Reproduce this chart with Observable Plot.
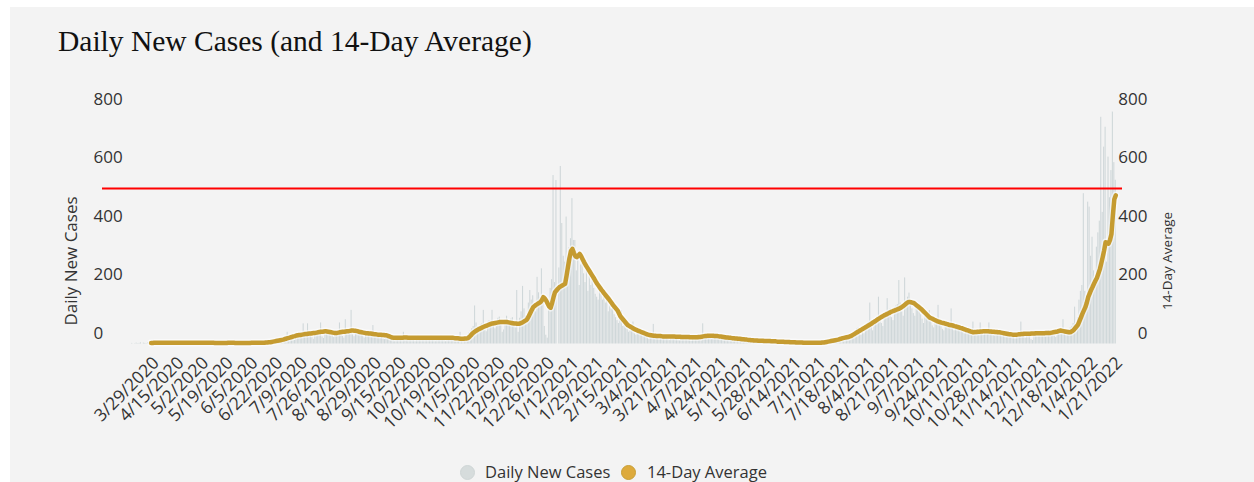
<!DOCTYPE html>
<html><head><meta charset="utf-8">
<script src="https://cdn.jsdelivr.net/npm/d3@7"></script>
<script src="https://cdn.jsdelivr.net/npm/@observablehq/plot@0.6"></script>
<style>
html,body{margin:0;padding:0;background:#fff;width:1254px;height:482px;overflow:hidden;}
#panel{position:absolute;left:10px;top:7px;width:1244px;height:475px;background:#f3f3f3;}
#title{position:absolute;left:58px;top:27px;font-family:"Liberation Serif","Times New Roman",serif;font-size:29.5px;line-height:29px;color:#111;white-space:nowrap;}
.ytitle{position:absolute;font-family:"Open Sans",sans-serif;color:#333;white-space:nowrap;line-height:1;transform:translate(-50%,-50%) rotate(-90deg);}
#chart{position:absolute;left:0;top:70px;}
.leg-dot{position:absolute;width:15px;height:15px;border-radius:50%;box-sizing:border-box;}
.leg-txt{position:absolute;font-family:"Open Sans",sans-serif;font-size:16.5px;color:#333;white-space:nowrap;line-height:1;transform:translateY(-50%);}
</style>
</head><body>
<div id="panel"></div>
<div id="title"></div>
<div id="ylabL" class="ytitle" style="left:70px;top:261px;font-size:17px;"></div>
<div id="ylabR" class="ytitle" style="left:1168px;top:261px;font-size:13.5px;"></div>
<div id="chart"></div>
<div id="legend"></div>
<script>
const chartTitle = "Daily New Cases (and 14-Day Average)";
const seriesNames = ["Daily New Cases", "14-Day Average"];
const firstDate = "2020-03-16";

// daily new cases, one value per day starting 3/16/2020
const daily2020 = [
  2,0,1,3,1,2,4,0,3,2,1,5,3,2,4,6,
  5,3,6,2,1,7,4,5,3,6,4,2,1,5,6,4,3,5,2,3,7,4,3,5,2,1,6,4,3,5,
  4,3,2,5,3,6,1,2,4,5,3,2,4,6,3,1,2,5,4,3,2,6,3,1,2,4,5,3,2,4,3,
  3,4,2,5,3,2,4,3,5,2,3,4,6,2,3,9,7,12,10,6,5,15,13,17,11,20,9,8,24,26,
  40,22,18,30,14,12,35,33,28,38,20,69,26,31,69,36,30,22,16,42,38,45,30,72,24,19,44,48,40,36,28,
  30,22,45,41,38,72,34,26,20,83,48,44,40,115,32,25,47,50,44,36,42,28,20,38,35,40,30,34,63,22,30,
  32,28,35,30,18,15,24,30,26,22,20,14,10,22,25,24,20,18,40,12,20,23,26,21,18,15,10,24,26,22,
  20,24,16,12,22,25,21,26,23,14,10,22,24,20,26,19,12,9,24,22,25,18,20,13,10,22,17,40,18,14,12,
  15,30,38,44,52,60,130,72,58,55,66,70,115,48,42,75,80,72,115,68,52,60,88,92,70,40,48,82,95,78,
  70,85,90,60,55,183,40,88,110,197,120,95,70,140,183,150,165,130,110,228,175,160,257,150,60,30,20,140,190,220,576
];
const daily2021 = [
  210,559,0,260,607,412,300,280,434,240,330,360,497,354,354,250,309,200,270,285,240,210,263,180,230,200,228,190,170,160,150,
  183,170,150,160,140,172,110,130,120,137,100,90,80,70,95,114,60,70,55,50,40,45,60,75,35,30,42,38,
  35,30,28,34,26,20,15,30,28,67,22,25,18,14,28,30,24,26,22,17,12,27,30,25,28,20,14,11,26,29,24,
  22,26,18,12,10,24,28,25,20,22,15,11,69,27,30,28,26,20,16,32,30,34,28,22,14,26,28,24,20,18,
  20,14,22,24,20,18,16,12,9,18,16,14,15,12,8,6,13,12,10,14,11,7,5,12,11,13,10,9,6,4,8,
  10,9,8,11,6,4,9,8,7,10,6,5,3,7,6,5,8,4,3,2,5,4,6,3,5,2,1,4,5,3,
  4,5,2,3,6,5,8,9,6,4,12,14,16,18,10,8,20,24,26,22,30,28,18,14,34,40,45,52,55,38,30,
  40,35,62,70,75,140,60,45,80,85,92,160,95,70,60,100,110,155,115,120,90,80,125,130,135,217,140,110,95,226,150,
  160,174,140,120,104,95,130,125,110,100,85,70,95,90,88,114,80,62,55,78,82,132,70,65,50,45,68,72,70,60,
  120,60,45,58,62,55,50,48,40,35,52,50,46,42,38,75,30,44,48,45,72,40,30,38,46,48,72,42,36,30,28,
  42,45,40,38,35,28,24,40,38,36,30,28,22,18,35,34,36,75,30,25,20,38,40,36,15,12,30,34,38,36,
  38,40,42,30,24,44,46,40,38,36,28,22,48,50,52,45,83,35,30,42,48,55,60,70,126,40,90,150,180,200,514
];
const daily2022 = [180,120,485,468,300,365,250,200,331,380,420,775,450,673,741,280,639,500,593,793,620,560];

// 14-day average, aligned with the daily values (starts 3/29/2020)
const avg2020 = [
  null,null,null,null,null,null,null,null,null,null,null,null,null,3,3,4,
  4,4,4,4,4,4,4,4,4,4,4,4,4,4,4,4,4,4,4,4,4,4,4,4,4,4,4,4,4,4,
  4,4,4,4,4,4,4,4,4,4,4,3,3,3,3,3,3,3,3,3,4,4,4,4,4,3,3,3,3,3,3,
  3,3,3,3,3,4,4,4,4,4,4,4,4,4,4,5,5,6,6,7,8,9,10,11,12,13,14,15,17,18,
  20,21,23,24,26,27,29,30,31,31,32,33,34,34,35,36,36,37,38,38,39,40,41,42,42,43,44,43,42,41,40,
  39,38,38,38,39,40,41,42,42,43,44,44,45,46,46,45,45,44,42,41,40,39,38,37,37,36,36,35,34,33,33,
  32,32,32,31,31,30,30,28,26,24,22,21,21,21,21,21,21,21,22,22,22,21,21,21,21,21,21,21,21,21,
  21,21,21,21,21,21,21,21,21,21,21,21,21,21,21,21,21,21,21,21,21,21,21,20,20,20,19,18,18,18,19,
  19,20,24,29,35,39,43,46,49,52,54,57,59,61,63,65,67,69,70,71,72,73,74,75,75,75,75,75,75,74,
  73,72,71,70,70,69,69,70,72,75,78,81,86,96,106,116,126,130,134,137,140,143,150,160,155,148,138,128,124,140,160
];
const avg2021 = [
  177,183,189,194,197,200,203,206,235,265,295,318,325,312,300,297,302,308,300,290,280,271,263,255,247,239,231,223,214,206,199,
  192,185,179,172,166,160,154,147,140,133,127,121,115,105,95,89,83,77,71,65,62,59,56,53,50,48,46,44,
  42,40,38,36,34,32,31,30,29,28,28,27,27,27,27,26,26,26,26,26,26,26,26,26,25,25,25,25,24,24,24,
  24,24,24,23,23,23,23,23,23,24,24,25,26,27,27,28,28,28,28,28,27,27,27,26,26,25,24,23,22,22,
  21,21,20,20,19,19,18,18,17,16,16,15,15,14,14,13,13,12,12,12,11,11,11,11,10,10,10,10,10,9,9,
  9,9,8,8,8,8,8,7,7,7,7,6,6,6,6,5,5,5,5,5,4,4,4,4,4,4,4,4,4,4,
  4,4,4,5,5,6,7,8,9,10,11,12,13,14,15,17,18,20,21,22,23,24,26,28,31,34,37,40,43,46,49,
  52,55,58,61,64,67,70,74,77,80,84,87,90,93,96,99,101,104,106,109,111,113,115,117,119,121,124,127,131,135,139,
  143,144,143,141,140,136,132,128,124,120,115,110,105,100,95,90,88,86,83,81,78,76,75,73,72,71,69,68,66,65,
  64,63,61,60,58,57,55,54,52,50,48,47,45,43,42,40,41,41,42,42,43,43,44,44,44,44,43,43,42,42,41,
  41,40,40,39,38,37,36,35,34,33,33,32,32,32,32,33,33,34,34,35,35,35,35,35,36,36,36,37,37,37,
  37,37,37,37,38,38,38,38,39,40,41,42,43,45,46,45,44,43,42,41,40,41,44,48,54,60,66,78,90,103,114
];
const avg2022 = [125,140,160,172,185,195,206,216,226,240,255,275,297,320,348,345,343,355,375,440,495,508];

const yTicks = [0, 200, 400, 600, 800];
const xTickLabels = ["3/29/2020","4/15/2020","5/2/2020","5/19/2020","6/5/2020","6/22/2020","7/9/2020","7/26/2020","8/12/2020","8/29/2020","9/15/2020","10/2/2020","10/19/2020","11/5/2020","11/22/2020","12/9/2020","12/26/2020","1/12/2021","1/29/2021","2/15/2021","3/4/2021","3/21/2021","4/7/2021","4/24/2021","5/11/2021","5/28/2021","6/14/2021","7/1/2021","7/18/2021","8/4/2021","8/21/2021","9/7/2021","9/24/2021","10/11/2021","10/28/2021","11/14/2021","12/1/2021","12/18/2021","1/4/2022","1/21/2022"];
const referenceLevel = 532;

const barColor = "#cfd7d9";
const lineColor = "#c59b30";

const DAY = 864e5;
const t0 = Date.parse(firstDate + "T00:00:00Z");
const daily = [...daily2020, ...daily2021, ...daily2022];
const avg = [...avg2020, ...avg2021, ...avg2022];
const rows = daily.map((v, i) => ({
  start: new Date(t0 + i * DAY),
  end: new Date(t0 + (i + 1) * DAY),
  mid: new Date(t0 + i * DAY + DAY / 2),
  cases: v,
  avg: avg[i]
}));
const avgRows = rows.filter(d => d.avg != null);
const tickDates = xTickLabels.map(s => {
  const [m, d, y] = s.split("/").map(Number);
  return new Date(Date.UTC(y, m - 1, d, 12));
});
const fmt = d => `${d.getUTCMonth() + 1}/${d.getUTCDate()}/${d.getUTCFullYear()}`;

const chart = Plot.plot({
  width: 1254,
  height: 390,
  marginLeft: 131,
  marginRight: 138,
  marginTop: 39.5,
  marginBottom: 116.5,
  style: {background: "transparent", fontFamily: "Open Sans", fontSize: "17px", color: "#333", overflow: "visible"},
  x: {type: "utc", domain: [new Date(t0), new Date(t0 + daily.length * DAY)]},
  y: {domain: [0, 800]},
  marks: [
    Plot.rectY(rows, {x1: "start", x2: "end", y: "cases", fill: barColor, insetLeft: 0.2, insetRight: 0.2}),
    Plot.line(avgRows, {x: "mid", y: "avg", stroke: "#ffffff", strokeOpacity: 0.55, strokeWidth: 7.5}),
    Plot.line(avgRows, {x: "mid", y: "avg", stroke: lineColor, strokeWidth: 4.5}),
    Plot.ruleY([referenceLevel], {stroke: "#ff0000", strokeWidth: 2, insetLeft: -29, insetRight: -6}),
    Plot.axisY({anchor: "left", ticks: yTicks, tickSize: 0, tickPadding: 38, textAnchor: "start", dy: -10.5, label: null, fontSize: 17}),
    Plot.axisY({anchor: "right", ticks: yTicks, tickSize: 0, tickPadding: 31, textAnchor: "end", dy: -10.5, label: null, fontSize: 17}),
    Plot.axisX({ticks: tickDates, tickFormat: fmt, tickRotate: -45, tickSize: 0, tickPadding: 16, dx: 5, label: null, fontSize: 17.5})
  ]
});
document.getElementById("chart").appendChild(chart);

document.getElementById("title").textContent = chartTitle;
document.getElementById("ylabL").textContent = seriesNames[0];
document.getElementById("ylabR").textContent = seriesNames[1];

const legend = document.getElementById("legend");
const legendItems = [
  {name: seriesNames[0], dotX: 460, txtX: 485, fill: "#d6dcdc", stroke: "#cfd6d6"},
  {name: seriesNames[1], dotX: 621, txtX: 647, fill: "#ddaa3c", stroke: "#c89f36"}
];
legendItems.forEach(it => {
  const dot = document.createElement("div");
  dot.className = "leg-dot";
  dot.style.left = it.dotX + "px";
  dot.style.top = "465px";
  dot.style.background = it.fill;
  dot.style.border = "1px solid " + it.stroke;
  legend.appendChild(dot);
  const t = document.createElement("div");
  t.className = "leg-txt";
  t.style.left = it.txtX + "px";
  t.style.top = "472px";
  t.textContent = it.name;
  legend.appendChild(t);
});
</script>
</body></html>
